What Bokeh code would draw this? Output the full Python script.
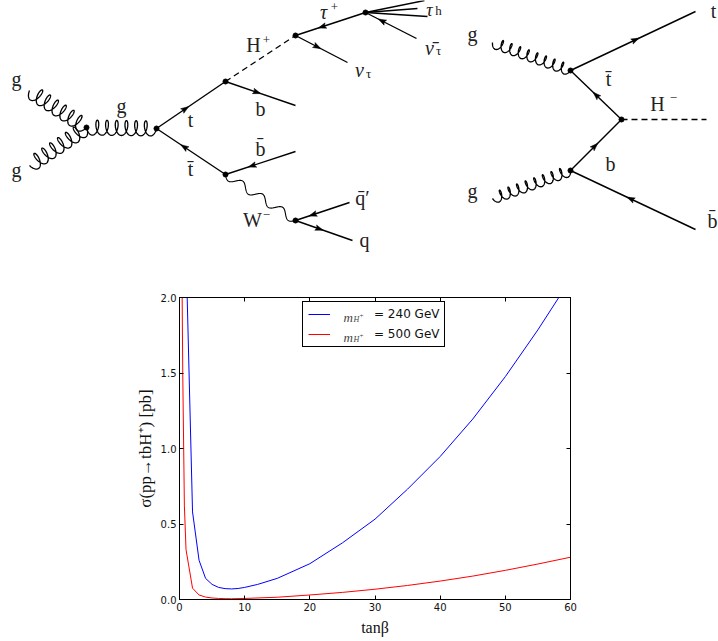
import numpy as np
from math import pi
from bokeh.plotting import figure
from bokeh.layouts import column
from bokeh.models import Range1d, LinearAxis, FixedTicker, Legend, LegendItem
from bokeh.core.properties import value
from bokeh.embed import file_html
from bokeh.resources import INLINE

# ---------- chart data ----------
tanb_240 = [1, 2, 3, 4, 5, 6, 7, 8, 9, 10, 12, 15, 20, 25, 30, 35, 40, 45, 50, 55, 60]
xsec_240 = [2.31, 0.58, 0.26, 0.14, 0.10, 0.08, 0.072, 0.07, 0.073, 0.08, 0.10, 0.14, 0.237, 0.375, 0.532, 0.731, 0.947, 1.195, 1.476, 1.786, 2.12]
tanb_500 = [0.3, 0.5, 0.75, 1, 2, 3, 4, 5, 6, 7, 8, 10, 15, 20, 25, 30, 35, 40, 45, 50, 55, 60]
xsec_500 = [2.6, 1.5, 0.62, 0.33, 0.075, 0.03, 0.016, 0.01, 0.007, 0.0055, 0.005, 0.007, 0.015, 0.03, 0.047, 0.068, 0.093, 0.122, 0.155, 0.193, 0.235, 0.28]
x_ticks = [0, 10, 20, 30, 40, 50, 60]
y_ticks = [0.0, 0.5, 1.0, 1.5, 2.0]
legend_labels = ["= 240 GeV", "= 500 GeV"]
x_label = "tan\u03b2"
y_label = "\u03c3(pp\u2192tbH\u207a) [pb]"

# ---------- Feynman diagram data (drawing coordinates, y downwards) ----------
fermions = [
    (156, 128, 225, 81, 0.42), (225, 174, 156, 128, 0.60),
    (225, 81, 295, 105, 0.45), (295, 151, 225, 174, 0.62),
    (365, 12, 295, 35, 0.62), (295, 35, 347, 62, 0.42),
    (416, 38, 365, 12, 0.68), (349, 202, 295, 220, 0.68), (295, 220, 352, 240, 0.42),
    (365, 12, 424, 0, None), (365, 12, 417, 8, None), (365, 12, 427, 16, None),
    (570, 70, 695, 11, 0.52), (621, 119, 570, 70, 0.50),
    (570, 170, 621, 119, 0.48), (695, 229, 570, 170, 0.52),
]
dashes = [(225, 81, 295, 35), (621, 119, 706, 119)]
gluons = [
    (29, 90, 86, 127, 6, 7.5, 3.5, 1), (29, 165, 86, 127, 6, 7.5, 3.5, 1),
    (86, 127, 156, 128, 6, 7.5, 3.5, 1),
    (492, 42, 570, 70, 8, 5.5, 2.6, 1), (492, 198, 570, 170, 8, 5.5, 2.6, 1),
]
wave = (225, 174, 295, 220, 3.5, 4.0)
vertex_x = [86, 156, 225, 225, 295, 295, 365, 570, 570, 621]
vertex_y = [127, 128, 81, 174, 35, 220, 12, 70, 170, 119]

roman_x = [16, 16, 121, 190, 190, 253, 260, 260, 252, 362, 364, 472, 472, 608, 657, 610, 713, 712]
roman_y = [78, 169, 105, 119, 168, 44, 108, 148, 219, 197, 239, 33, 190, 78, 103, 163, 10, 220]
roman_t = ["g", "g", "g", "t", "t\u0304", "H", "b", "b\u0304", "W", "q\u0304\u2032", "q", "g", "g", "t\u0304", "H", "b", "t", "b\u0304"]
sup_x = [266, 334, 266, 673]
sup_y = [39, 6, 214, 97]
sup_t = ["+", "+", "\u2212", "\u2212"]
greek_x = [323, 429, 359]
greek_y = [11, 47, 69]
greek_t = ["\u03c4", "\u03bd\u0304", "\u03bd"]
tau_h_x = [429]
tau_h_y = [9]
tau_h_t = ["\u03c4"]
sub_x = [438, 438, 368]
sub_y = [10, 50, 73]
sub_t = ["h", "\u03c4", "\u03c4"]


def gluon_path(x0, y0, x1, y1, n, h, a, side):
    L = np.hypot(x1 - x0, y1 - y0)
    u = np.array([x1 - x0, y1 - y0]) / L
    v = np.array([u[1], -u[0]]) * side
    th = np.linspace(pi / 2, pi / 2 + pi + 2 * pi * n, 60 * n)
    step = (L - 2 * a) / (n + 0.5)
    along = step * (th - pi / 2) / (2 * pi) - a * np.sin(th) + a
    perp = h * np.cos(th)
    return list(x0 + along * u[0] + perp * v[0]), list(y0 + along * u[1] + perp * v[1])


def wave_path(x0, y0, x1, y1, n, h):
    t = np.linspace(0, 1, 200)
    L = np.hypot(x1 - x0, y1 - y0)
    u = np.array([x1 - x0, y1 - y0]) / L
    v = np.array([-u[1], u[0]])
    s = h * np.sin(2 * pi * n * t)
    return list(x0 + t * (x1 - x0) + s * v[0]), list(y0 + t * (y1 - y0) + s * v[1])


PAGE_W = 718
TOP_H = 270
BOTTOM_H = 370

d = figure(width=PAGE_W, height=TOP_H, x_range=Range1d(0, 718), y_range=Range1d(270, 0),
           toolbar_location=None, output_backend="svg", min_border=0)
d.frame_align = False
d.axis.visible = False
d.grid.visible = False
d.outline_line_color = None

for x0, y0, x1, y1, *_ in fermions:
    d.line([x0, x1], [y0, y1], line_color="black", line_width=1.4)
for x0, y0, x1, y1 in dashes:
    d.line([x0, x1], [y0, y1], line_color="black", line_width=1.3, line_dash="6 4")
for g in gluons:
    gx, gy = gluon_path(*g)
    d.line(gx, gy, line_color="black", line_width=1.3)
wx, wy = wave_path(*wave)
d.line(wx, wy, line_color="black", line_width=1.1)

hx, hy = [], []
for x0, y0, x1, y1, f in fermions:
    if f is None:
        continue
    L = np.hypot(x1 - x0, y1 - y0)
    ux, uy = (x1 - x0) / L, (y1 - y0) / L
    ax_, ay_ = x0 + f * (x1 - x0), y0 + f * (y1 - y0)
    hx.append([ax_ + 4 * ux, ax_ - 4 * ux - 2.8 * uy, ax_ - 2.5 * ux, ax_ - 4 * ux + 2.8 * uy])
    hy.append([ay_ + 4 * uy, ay_ - 4 * uy + 2.8 * ux, ay_ - 2.5 * uy, ay_ - 4 * uy - 2.8 * ux])
d.patches(hx, hy, fill_color="black", line_color="black", line_width=0.5)
d.scatter(vertex_x, vertex_y, size=5, marker="circle", fill_color="black", line_color="black")

tc = "#222222"
common = dict(text_align="center", text_baseline="middle", text_color=tc)
d.text(roman_x, roman_y, text=roman_t, text_font=value("Liberation Serif"), text_font_size="20px", **common)
d.text(sup_x, sup_y, text=sup_t, text_font=value("Liberation Serif"), text_font_size="13px", **common)
d.text(greek_x, greek_y, text=greek_t, text_font=value("Liberation Serif"), text_font_style="italic", text_font_size="20px", **common)
d.text(tau_h_x, tau_h_y, text=tau_h_t, text_font=value("Liberation Serif"), text_font_style="italic", text_font_size="18px", **common)
d.text(sub_x, sub_y, text=sub_t, text_font=value("Liberation Serif"), text_font_size="13px", **common)

# ---------- chart ----------
LEFT, RIGHT, TOP, BOTTOM = 179, 570, 297, 598.5
p = figure(width=PAGE_W, height=BOTTOM_H, x_range=Range1d(0, 60), y_range=Range1d(0, 2),
           toolbar_location=None, output_backend="svg",
           min_border_left=LEFT, min_border_right=PAGE_W - RIGHT,
           min_border_top=int(TOP - TOP_H), min_border_bottom=int(TOP_H + BOTTOM_H - BOTTOM))
p.frame_align = False
p.grid.visible = False
p.outline_line_color = "black"
p.outline_line_width = 1


def style(ax, ticks, labels=True):
    ax.ticker = FixedTicker(ticks=ticks)
    ax.major_tick_in = 4
    ax.major_tick_out = 0
    ax.minor_tick_line_color = None
    ax.axis_line_color = "black"
    ax.major_tick_line_color = "black"
    ax.major_label_text_font = "DejaVu Sans"
    ax.major_label_text_font_size = "10px"
    ax.major_label_text_color = "#111111"
    ax.major_label_standoff = 3
    if not labels:
        ax.major_label_overrides = {t: "" for t in ticks}
        ax.major_label_standoff = 0


bottom_ax = p.below[0]
left_ax = p.left[0]
style(bottom_ax, x_ticks)
style(left_ax, y_ticks)
bottom_ax.major_label_overrides = {t: str(t) for t in x_ticks}
left_ax.major_label_overrides = {t: f"{t:.1f}" for t in y_ticks}
top_ax = LinearAxis()
right_ax = LinearAxis()
p.add_layout(top_ax, "above")
p.add_layout(right_ax, "right")
style(top_ax, x_ticks, False)
style(right_ax, y_ticks, False)

for ax, lab, size, standoff in ((bottom_ax, x_label, "16px", 5), (left_ax, y_label, "17px", 3)):
    ax.axis_label = lab
    ax.axis_label_text_font = "Liberation Serif"
    ax.axis_label_text_font_size = size
    ax.axis_label_text_font_style = "normal"
    ax.axis_label_text_color = "#111111"
    ax.axis_label_standoff = standoff

r1 = p.line(tanb_240, xsec_240, line_color="blue", line_width=1)
r2 = p.line(tanb_500, xsec_500, line_color="red", line_width=1)

leg = Legend(items=[LegendItem(label=value(legend_labels[0]), renderers=[r1]),
                    LegendItem(label=value(legend_labels[1]), renderers=[r2])],
             location=(302 - LEFT, BOTTOM - 346), orientation="vertical",
             padding=5, margin=0, spacing=6, glyph_width=22, glyph_height=10, label_height=14,
             label_standoff=44, label_text_font="DejaVu Sans", label_text_font_size="12px",
             label_text_color="#111111", border_line_color="black", border_line_width=1,
             border_line_alpha=1, background_fill_alpha=0)
p.add_layout(leg)


def X(px):
    return (px - LEFT) * 60 / (RIGHT - LEFT)


def Y(py):
    return (BOTTOM - py) * 2 / (BOTTOM - TOP)


for row in (0, 20):
    p.text([X(343)], [Y(317 + row)], text=["m"], text_font=value("Liberation Serif"), text_font_style="italic",
           text_font_size="13px", text_color="#444444", text_align="left", text_baseline="alphabetic", level="overlay")
    p.text([X(353)], [Y(319 + row)], text=["H"], text_font=value("Liberation Serif"), text_font_style="italic",
           text_font_size="8px", text_color="#444444", text_align="left", text_baseline="alphabetic", level="overlay")
    p.text([X(359)], [Y(315 + row)], text=["+"], text_font=value("Liberation Serif"),
           text_font_size="7px", text_color="#444444", text_align="left", text_baseline="alphabetic", level="overlay")

open("out.html", "w").write(file_html(column(d, p, spacing=0), INLINE))
